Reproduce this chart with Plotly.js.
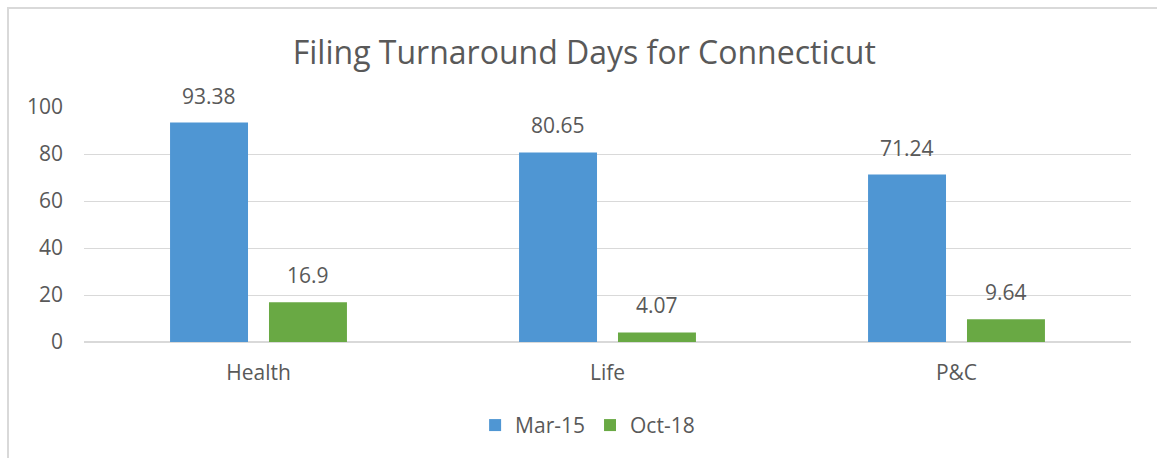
<!DOCTYPE html>
<html>
<head>
<meta charset="utf-8">
<script src="https://cdn.plot.ly/plotly-3.0.1.min.js"></script>
<style>
  html, body { margin: 0; padding: 0; background: #fff; }
  #wrap { position: relative; width: 1157px; height: 458px; overflow: hidden; }
  #frame { position: absolute; left: 7px; top: 7px; width: 1160px; height: 470px;
           border-top: 2px solid #d9d9d9; border-left: 2px solid #d9d9d9; box-sizing: border-box; }
  #chart { position: absolute; left: 0; top: 0; width: 1157px; height: 458px; }
</style>
</head>
<body>
<div id="wrap">
  <div id="frame"></div>
  <div id="chart"></div>
</div>
<script>
const categories = ["Health", "Life", "P&C"];
const mar15 = [93.38, 80.65, 71.24];
const oct18 = [16.9, 4.07, 9.64];
const mar15Labels = ["93.38", "80.65", "71.24"];
const oct18Labels = ["16.9", "4.07", "9.64"];

const textColor = "#595959";
const fontFam = "'Open Sans', sans-serif";
const fs = 21;

const W = 1157, H = 458;
const M = { l: 84, r: 26, t: 107, b: 116 };
const bargap = 0.433, bargroupgap = 0.212;

// pixel offset of each bar centre from its category centre (for labels)
const catPx = (W - M.l - M.r) / categories.length;
const slotPx = catPx * (1 - bargap) / 2;

const traces = [
  { type: "bar", name: "Mar-15", x: categories, y: mar15,
    marker: { color: "#4F96D3" }, hoverinfo: "skip" },
  { type: "bar", name: "Oct-18", x: categories, y: oct18,
    marker: { color: "#69A944" }, hoverinfo: "skip" }
];

const annotations = [];
[[mar15, mar15Labels, -0.5], [oct18, oct18Labels, 0.5]].forEach(([vals, labs, side]) => {
  vals.forEach((v, i) => {
    annotations.push({
      x: categories[i], y: v, xref: "x", yref: "y",
      text: labs[i], showarrow: false,
      xanchor: "center", yanchor: "bottom",
      xshift: side * slotPx, yshift: 11,
      font: { size: fs, color: textColor, family: fontFam }
    });
  });
});

const layout = {
  width: W, height: H,
  paper_bgcolor: "rgba(0,0,0,0)", plot_bgcolor: "rgba(0,0,0,0)",
  margin: M,
  font: { family: fontFam, color: textColor, size: fs },
  title: {
    text: "Filing Turnaround Days for Connecticut",
    font: { size: 32, color: textColor, family: fontFam },
    x: 0.505, xanchor: "center", y: 0.885, yanchor: "middle"
  },
  barmode: "group",
  bargap: bargap,
  bargroupgap: bargroupgap,
  xaxis: {
    type: "category", showgrid: false, showline: false, zeroline: false,
    ticks: "", ticklabelstandoff: 16,
    tickfont: { size: fs, color: textColor, family: fontFam }
  },
  yaxis: {
    range: [0, 100], tickvals: [0, 20, 40, 60, 80, 100],
    showgrid: true, gridcolor: "#d9d9d9", gridwidth: 1,
    zeroline: true, zerolinecolor: "#d9d9d9", zerolinewidth: 2,
    showline: false, ticks: "", ticklabelstandoff: 20,
    tickfont: { size: fs, color: textColor, family: fontFam }
  },
  annotations: annotations,
  showlegend: true,
  legend: {
    orientation: "h", x: 0.481, xanchor: "center", y: -0.355, yanchor: "middle",
    font: { size: fs, color: textColor, family: fontFam },
    itemclick: false, itemdoubleclick: false, traceorder: "normal"
  }
};

Plotly.newPlot("chart", traces, layout, { displayModeBar: false, staticPlot: true });
</script>
</body>
</html>
